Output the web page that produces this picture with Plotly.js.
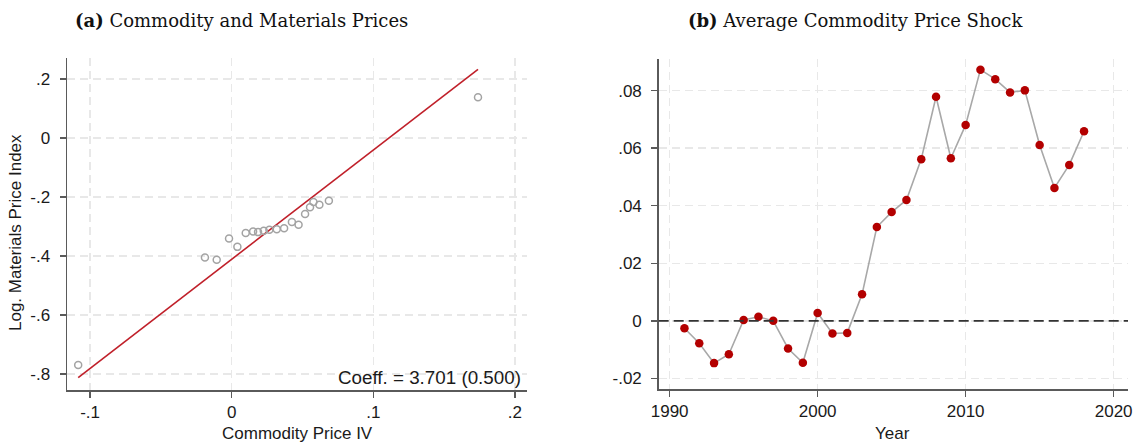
<!DOCTYPE html>
<html>
<head>
<meta charset="utf-8">
<script src="https://cdn.plot.ly/plotly-3.0.1.min.js"></script>
<style>
  html, body { margin: 0; padding: 0; background: #ffffff; }
  #chart { width: 1140px; height: 445px; }
</style>
</head>
<body>
<div id="chart"></div>
<script>
// Panel (a): binned commodity price IV vs log materials price index
const ivValues = [-0.1084, -0.0189, -0.0106, -0.0019, 0.0040, 0.0099, 0.0151, 0.0186, 0.0226, 0.0266,
                  0.0318, 0.0370, 0.0425, 0.0472, 0.0518, 0.0553, 0.0577, 0.0619, 0.0686, 0.1739];
const materialsIndex = [-0.769, -0.405, -0.413, -0.341, -0.369, -0.322, -0.317, -0.319, -0.314, -0.311,
                        -0.309, -0.306, -0.285, -0.294, -0.258, -0.235, -0.217, -0.226, -0.213, 0.138];
const fitSlope = 3.701;
const fitSE = 0.500;
const fitIntercept = -0.411;

// Panel (b): average commodity price shock by year
const years = [1991, 1992, 1993, 1994, 1995, 1996, 1997, 1998, 1999, 2000, 2001, 2002, 2003, 2004,
               2005, 2006, 2007, 2008, 2009, 2010, 2011, 2012, 2013, 2014, 2015, 2016, 2017, 2018];
const avgShock = [-0.0026, -0.0078, -0.0147, -0.0116, 0.0003, 0.0014, 0.0000, -0.0096, -0.0146, 0.0027,
                  -0.0044, -0.0042, 0.0092, 0.0326, 0.0378, 0.0420, 0.0562, 0.0779, 0.0565, 0.0681,
                  0.0873, 0.0840, 0.0794, 0.0801, 0.0611, 0.0462, 0.0542, 0.0659];

// Tick labels
const aXTicks = [-0.1, 0, 0.1, 0.2];
const aXTickText = ['-.1', '0', '.1', '.2'];
const aYTicks = [-0.8, -0.6, -0.4, -0.2, 0, 0.2];
const aYTickText = ['-.8', '-.6', '-.4', '-.2', '0', '.2'];
const bXTicks = [1990, 2000, 2010, 2020];
const bXTickText = ['1990', '2000', '2010', '2020'];
const bYTicks = [-0.02, 0, 0.02, 0.04, 0.06, 0.08];
const bYTickText = ['-.02', '0', '.02', '.04', '.06', '.08'];

const W = 1140, H = 445;
const px = v => v / W;
const py = v => 1 - v / H;

const SANS = 'Liberation Sans, Arial, sans-serif';
const SERIF = 'DejaVu Serif, serif';
const AXIS_COLOR = '#5a5a5a';
const GRID_COLOR = '#e8e8e8';

// Fitted line spans the range of the binned points
const xMin = Math.min(...ivValues), xMax = Math.max(...ivValues);
const fitX = [xMin, xMax];
const fitY = fitX.map(x => fitIntercept + fitSlope * x);

const traces = [
  {
    x: fitX, y: fitY, xaxis: 'x', yaxis: 'y', type: 'scatter', mode: 'lines',
    line: { color: '#c0202a', width: 1.6 }, hoverinfo: 'skip', showlegend: false
  },
  {
    x: ivValues, y: materialsIndex, xaxis: 'x', yaxis: 'y', type: 'scatter', mode: 'markers',
    marker: { symbol: 'circle-open', size: 7, color: '#a3a3a3', line: { width: 1.5, color: '#a3a3a3' } },
    showlegend: false
  },
  {
    x: years, y: avgShock, xaxis: 'x2', yaxis: 'y2', type: 'scatter', mode: 'lines+markers',
    line: { color: '#a8a8a8', width: 1.6 },
    marker: { symbol: 'circle', size: 8.5, color: '#b30000' },
    showlegend: false
  }
];

const axisCommon = {
  showline: true, linecolor: AXIS_COLOR, linewidth: 1.5, mirror: false,
  ticks: 'outside', ticklen: 6, tickwidth: 1.5, tickcolor: AXIS_COLOR,
  showgrid: true, gridcolor: GRID_COLOR, gridwidth: 1.5, griddash: '8px,5px',
  zeroline: false, tickmode: 'array',
  tickfont: { family: SANS, size: 17, color: '#1a1a1a' },
  fixedrange: true
};

const layout = {
  width: W, height: H,
  margin: { l: 0, r: 0, t: 0, b: 0 },
  paper_bgcolor: '#ffffff', plot_bgcolor: '#ffffff',
  showlegend: false,
  xaxis: Object.assign({}, axisCommon, {
    domain: [px(67), px(527)], range: [-0.1163, 0.2085], anchor: 'y',
    tickvals: aXTicks, ticktext: aXTickText, ticklabelstandoff: 0
  }),
  yaxis: Object.assign({}, axisCommon, {
    domain: [py(390), py(58)], range: [-0.854, 0.271], anchor: 'x',
    tickvals: aYTicks, ticktext: aYTickText, ticklabelstandoff: 6
  }),
  xaxis2: Object.assign({}, axisCommon, {
    domain: [px(658.7), px(1128)], range: [1989.26, 2020.97], anchor: 'y2',
    tickvals: bXTicks, ticktext: bXTickText, ticklabelstandoff: 0
  }),
  yaxis2: Object.assign({}, axisCommon, {
    domain: [py(389.3), py(59.3)], range: [-0.0238, 0.0909], anchor: 'x2',
    tickvals: bYTicks, ticktext: bYTickText, ticklabelstandoff: 6
  }),
  shapes: [
    {
      type: 'line', xref: 'x2 domain', yref: 'y2', x0: 0, x1: 1, y0: 0, y1: 0,
      line: { color: '#333333', width: 1.6, dash: '10px,5px' }, layer: 'above'
    }
  ],
  annotations: [
    {
      text: '<b>(a)</b> Commodity and Materials Prices', xref: 'paper', yref: 'paper',
      x: px(241.5), y: py(20), xanchor: 'center', yanchor: 'middle', showarrow: false,
      font: { family: SERIF, size: 18, color: '#111111' }
    },
    {
      text: '<b>(b)</b> Average Commodity Price Shock', xref: 'paper', yref: 'paper',
      x: px(855), y: py(20), xanchor: 'center', yanchor: 'middle', showarrow: false,
      font: { family: SERIF, size: 18, color: '#111111' }
    },
    {
      text: 'Commodity Price IV', xref: 'paper', yref: 'paper',
      x: px(297), y: py(433), xanchor: 'center', yanchor: 'middle', showarrow: false,
      font: { family: SANS, size: 17, color: '#1a1a1a' }
    },
    {
      text: 'Log. Materials Price Index', xref: 'paper', yref: 'paper',
      x: px(15), y: py(233), xanchor: 'center', yanchor: 'middle', showarrow: false, textangle: -90,
      font: { family: SANS, size: 17, color: '#1a1a1a' }
    },
    {
      text: 'Year', xref: 'paper', yref: 'paper',
      x: px(892), y: py(433), xanchor: 'center', yanchor: 'middle', showarrow: false,
      font: { family: SANS, size: 17, color: '#1a1a1a' }
    },
    {
      text: 'Coeff. = ' + fitSlope.toFixed(3) + ' (' + fitSE.toFixed(3) + ')',
      xref: 'paper', yref: 'paper',
      x: px(523), y: py(377.5), xanchor: 'right', yanchor: 'middle', showarrow: false,
      font: { family: SANS, size: 18.8, color: '#1a1a1a' }
    }
  ]
};

Plotly.newPlot('chart', traces, layout, { staticPlot: true, displayModeBar: false });
</script>
</body>
</html>
